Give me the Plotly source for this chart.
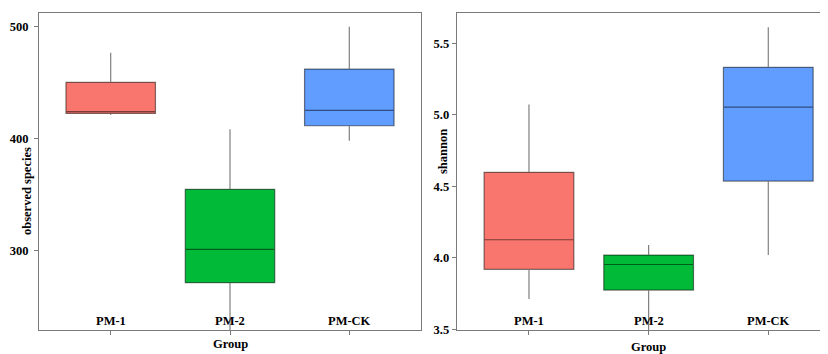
import plotly.graph_objects as go

groups = ["PM-1", "PM-2", "PM-CK"]
colors = ["#F8766D", "#00BA38", "#619CFF"]

# observed species (left panel)
obs_lower = [421.0, 225.0, 398.0]
obs_q1 = [422.4, 271.5, 411.4]
obs_median = [423.9, 301.2, 425.1]
obs_q3 = [450.1, 354.7, 461.9]
obs_upper = [476.5, 408.2, 499.6]

# shannon (right panel)
sha_lower = [3.712, 3.45, 4.020]
sha_q1 = [3.920, 3.775, 4.537]
sha_median = [4.127, 3.954, 5.054]
sha_q3 = [4.598, 4.020, 5.332]
sha_upper = [5.073, 4.090, 5.612]

obs_ticks = [300, 400, 500]
sha_ticks = [3.5, 4.0, 4.5, 5.0, 5.5]

# page body has an 8px margin: the figure starts at (8, 8) in the window
OFF = 8
W, H = 828 - OFF, 354 - OFF
FONT = "Liberation Serif"
LINE = "rgba(0,0,0,0.5)"


def px(x):
    return (x - OFF) / W


def py(y):
    return 1 - (y - OFF) / H


fig = go.Figure()
for i, g in enumerate(groups):
    fig.add_trace(go.Box(
        x=[g], q1=[obs_q1[i]], median=[obs_median[i]], q3=[obs_q3[i]],
        lowerfence=[obs_lower[i]], upperfence=[obs_upper[i]],
        fillcolor=colors[i], line=dict(color=LINE, width=1.2),
        width=0.75, whiskerwidth=0, showlegend=False,
        xaxis="x", yaxis="y", boxpoints=False, hoverinfo="skip",
    ))
    fig.add_trace(go.Box(
        x=[g], q1=[sha_q1[i]], median=[sha_median[i]], q3=[sha_q3[i]],
        lowerfence=[sha_lower[i]], upperfence=[sha_upper[i]],
        fillcolor=colors[i], line=dict(color=LINE, width=1.2),
        width=0.75, whiskerwidth=0, showlegend=False,
        xaxis="x2", yaxis="y2", boxpoints=False, hoverinfo="skip",
    ))

tickfont = dict(family=FONT, size=12.5, color="black")
ax_common = dict(
    showline=True, mirror=True, linecolor="#7a7a7a", linewidth=1,
    showgrid=False, zeroline=False, ticks="outside", ticklen=4,
    tickcolor="#7a7a7a", tickfont=tickfont, automargin=False,
)

y_dom = [py(330), py(13)]

fig.update_layout(
    width=W, height=H,
    margin=dict(l=0, r=0, t=0, b=0),
    paper_bgcolor="white", plot_bgcolor="white",
    boxmode="overlay",
    xaxis=dict(domain=[px(39), px(421)], range=[-0.601, 2.601],
               type="category", categoryorder="array", categoryarray=groups,
               tickvals=groups, showticklabels=False,
               anchor="y", **ax_common),
    yaxis=dict(domain=y_dom, range=[229.3, 511.9],
               tickvals=obs_ticks,
               ticktext=[f"<b>{t}</b>" for t in obs_ticks],
               ticklabelstandoff=3,
               anchor="x", **ax_common),
    xaxis2=dict(domain=[px(456.7), 1.0], range=[-0.604, 2.499],
                type="category", categoryorder="array", categoryarray=groups,
                tickvals=groups, showticklabels=False,
                anchor="y2", **ax_common),
    yaxis2=dict(domain=y_dom, range=[3.496, 5.712],
                tickvals=sha_ticks,
                ticktext=[f"<b>{t:.1f}</b>" for t in sha_ticks],
                anchor="x2", **ax_common),
)

title_font = dict(family=FONT, size=12.5, color="black")
ann = [
    dict(text="<b>Group</b>", x=px(230.7), y=py(344.3), xref="paper"),
    dict(text="<b>Group</b>", x=px(648.3), y=py(346.5), xref="paper"),
    dict(text="<b>observed species</b>", x=px(27), y=py(191), textangle=-90, xref="paper"),
    dict(text="<b>shannon</b>", x=px(443), y=py(152), textangle=-90, xref="paper"),
]
# category labels sit inside the plot area, just above the x axis
for g in groups:
    ann.append(dict(text=f"<b>{g}</b>", x=g, y=py(320.5), xref="x"))
    ann.append(dict(text=f"<b>{g}</b>", x=g, y=py(320.5), xref="x2"))
for a in ann:
    fig.add_annotation(yref="paper", showarrow=False,
                       xanchor="center", yanchor="middle", font=title_font, **a)

fig.write_html("out.html")
